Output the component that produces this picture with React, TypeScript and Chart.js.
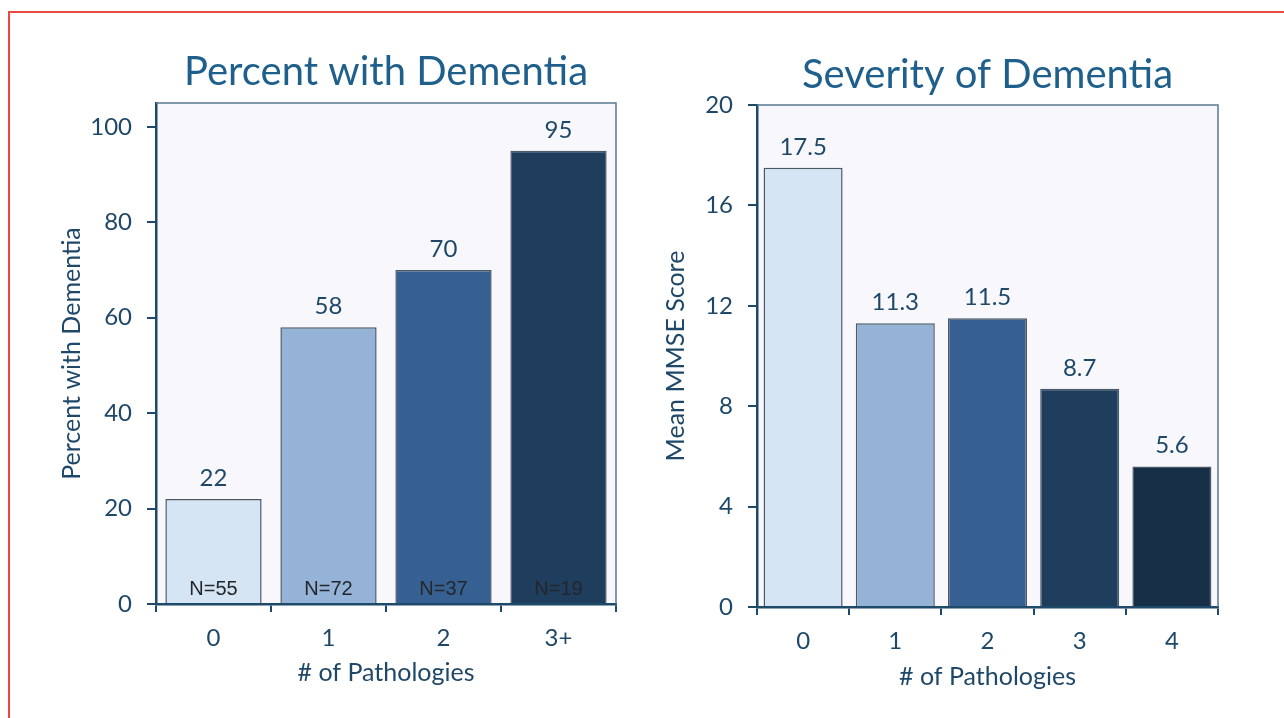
import React, { useEffect, useRef } from "react";
import { Chart, registerables } from "chart.js";

Chart.register(...registerables);

// ---------- data ----------
const leftCategories = ["0", "1", "2", "3+"];
const leftValues = [22, 58, 70, 95];
const leftN = ["N=55", "N=72", "N=37", "N=19"];
const leftColors = ["#d6e5f3", "#95b3d7", "#376092", "#1f3d5c"];

const rightCategories = ["0", "1", "2", "3", "4"];
const rightValues = [17.5, 11.3, 11.5, 8.7, 5.6];
const rightColors = ["#d6e5f3", "#95b3d7", "#376092", "#1f3d5c", "#172e47"];

const leftTitle = "Percent with Dementia";
const rightTitle = "Severity of Dementia";
const leftYTitle = "Percent with Dementia";
const rightYTitle = "Mean MMSE Score";
const xTitle = "# of Pathologies";

// ---------- styles ----------
const FONT = "Lato, 'Open Sans', sans-serif";
const AXIS = "#1e4a6a";
const TEXT = "#1f4868";
const TITLE = "#1f5f8c";
const FRAME = "#5a7891";
const PLOTBG = "#f7f7fc";

const framePlugin = {
  id: "frame",
  beforeDraw(chart: any) {
    const { ctx, chartArea: a } = chart;
    ctx.save();
    ctx.fillStyle = PLOTBG;
    ctx.fillRect(a.left, a.top, a.right - a.left, a.bottom - a.top);
    ctx.restore();
  },
  afterDraw(chart: any) {
    const { ctx, chartArea: a } = chart;
    ctx.save();
    ctx.strokeStyle = FRAME;
    ctx.lineWidth = 1.5;
    ctx.beginPath();
    ctx.moveTo(a.left, a.top);
    ctx.lineTo(a.right, a.top);
    ctx.lineTo(a.right, a.bottom);
    ctx.stroke();
    ctx.restore();
  },
};

const labelPlugin = {
  id: "barLabels",
  afterDatasetsDraw(chart: any, _args: any, opts: any) {
    const { ctx } = chart;
    const meta = chart.getDatasetMeta(0);
    const data = chart.data.datasets[0].data;
    ctx.save();
    meta.data.forEach((bar: any, i: number) => {
      ctx.font = `24px ${FONT}`;
      ctx.fillStyle = TEXT;
      ctx.textAlign = "center";
      ctx.textBaseline = "alphabetic";
      const v = data[i];
      const s = opts.decimals ? v.toFixed(opts.decimals) : String(v);
      ctx.fillText(s, bar.x, bar.y - 13);
      if (opts.inner) {
        ctx.font = `20px 'Liberation Sans', Arial, sans-serif`;
        ctx.fillStyle = "#23272c";
        ctx.fillText(opts.inner[i], bar.x, chart.chartArea.bottom - 9);
      }
    });
    ctx.restore();
  },
};

function makeConfig(p: {
  labels: string[];
  values: number[];
  colors: string[];
  title: string;
  titlePad: { top: number; bottom: number };
  yTitle: string;
  yTitlePad: number;
  xTitlePad: number;
  max: number;
  step: number;
  yWidth: number;
  xHeight: number;
  padRight: number;
  barPct: number;
  decimals: number;
  inner?: string[];
}): any {
  return {
    type: "bar",
    data: {
      labels: p.labels,
      datasets: [
        {
          data: p.values,
          backgroundColor: p.colors,
          borderColor: "#4b5866",
          borderWidth: 1.5,
          barPercentage: p.barPct,
          categoryPercentage: 1,
        },
      ],
    },
    options: {
      responsive: false,
      animation: false,
      devicePixelRatio: 1,
      layout: { padding: { top: 0, left: 0, bottom: 0, right: p.padRight } },
      plugins: {
        legend: { display: false },
        tooltip: { enabled: false },
        title: {
          display: true,
          text: p.title,
          fullSize: false,
          color: TITLE,
          font: { family: FONT, size: 40, weight: "normal" },
          padding: p.titlePad,
        },
        barLabels: { decimals: p.decimals, inner: p.inner },
      },
      scales: {
        x: {
          grid: {
            display: true,
            drawOnChartArea: false,
            drawTicks: true,
            tickLength: 8,
            color: AXIS,
            lineWidth: 2,
            offset: true,
          },
          border: { display: true, color: AXIS, width: 2.5 },
          ticks: {
            color: TEXT,
            font: { family: FONT, size: 24 },
            padding: 12,
          },
          title: {
            display: true,
            text: xTitle,
            color: TEXT,
            font: { family: FONT, size: 25 },
            padding: { top: 0, bottom: p.xTitlePad },
          },
          afterFit: (s: any) => {
            s.height = p.xHeight;
          },
        },
        y: {
          min: 0,
          max: p.max,
          grid: {
            display: true,
            drawOnChartArea: false,
            drawTicks: true,
            tickLength: 9,
            color: AXIS,
            lineWidth: 2,
          },
          border: { display: true, color: AXIS, width: 2.5 },
          ticks: {
            stepSize: p.step,
            includeBounds: false,
            color: TEXT,
            font: { family: FONT, size: 24 },
            padding: 15,
          },
          afterBuildTicks: (s: any) => {
            s.ticks = s.ticks.filter((t: any) => t.value % p.step === 0);
          },
          title: {
            display: true,
            text: p.yTitle,
            color: TEXT,
            font: { family: FONT, size: 25 },
            padding: { top: p.yTitlePad, bottom: 0 },
          },
          afterFit: (s: any) => {
            s.width = p.yWidth;
          },
        },
      },
    },
    plugins: [framePlugin, labelPlugin],
  };
}

function ChartCanvas(props: { config: any; left: number; width: number }) {
  const ref = useRef<HTMLCanvasElement | null>(null);
  useEffect(() => {
    if (!ref.current) return;
    const chart = new Chart(ref.current, props.config);
    return () => chart.destroy();
  }, []);
  return (
    <canvas
      ref={ref}
      width={props.width}
      height={718}
      style={{
        position: "absolute",
        left: props.left,
        top: 0,
        width: props.width,
        height: 718,
      }}
    />
  );
}

export default function App() {
  const leftCfg = makeConfig({
    labels: leftCategories,
    values: leftValues,
    colors: leftColors,
    title: leftTitle,
    titlePad: { top: 48, bottom: 7 },
    yTitle: leftYTitle,
    yTitlePad: 57,
    xTitlePad: 30,
    max: 105,
    step: 20,
    yWidth: 156,
    xHeight: 114,
    padRight: 24,
    barPct: 0.837,
    decimals: 0,
    inner: leftN,
  });
  const rightCfg = makeConfig({
    labels: rightCategories,
    values: rightValues,
    colors: rightColors,
    title: rightTitle,
    titlePad: { top: 51, bottom: 6 },
    yTitle: rightYTitle,
    yTitlePad: 21,
    xTitlePad: 26,
    max: 20,
    step: 4,
    yWidth: 117,
    xHeight: 111,
    padRight: 66,
    barPct: 0.857,
    decimals: 1,
  });
  return (
    <div
      style={{
        position: "absolute",
        left: 0,
        top: 0,
        width: 1284,
        height: 718,
        overflow: "hidden",
        background: "#ffffff",
      }}
    >
      <div
        style={{
          position: "absolute",
          left: 8,
          top: 11,
          width: 1290,
          height: 720,
          borderTop: "2px solid #ea4a42",
          borderLeft: "2px solid #ea4a42",
        }}
      />
      <ChartCanvas config={leftCfg} left={0} width={640} />
      <ChartCanvas config={rightCfg} left={640} width={644} />
    </div>
  );
}
